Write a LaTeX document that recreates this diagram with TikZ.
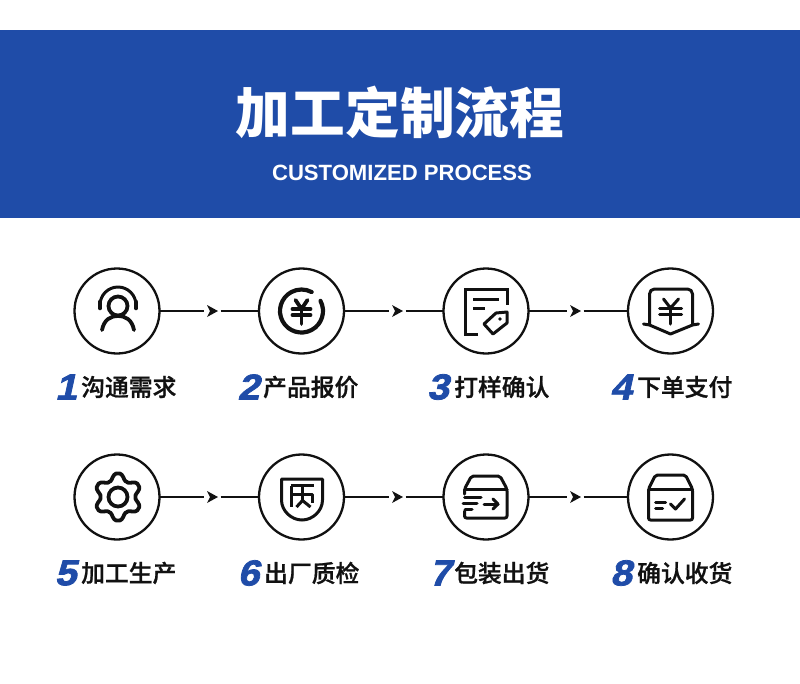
\documentclass[tikz,border=0pt]{standalone}
\usepackage{fontspec}
\usepackage{xcolor}
\setmainfont{Liberation Sans}
\newfontfamily\cjk{Noto Sans CJK SC}
\newfontfamily\cjkmed[FakeBold=0.9]{Noto Sans CJK SC Medium}
\newfontfamily\numfont[FakeStretch=1.08,FakeSlant=0.22,FakeBold=2.2]{Liberation Sans Bold}
\usetikzlibrary{positioning, calc}
\definecolor{brandblue}{HTML}{1F4CA8}
\definecolor{inkblack}{HTML}{111111}

\begin{document}
\begin{tikzpicture}[
  x=1pt, y=-1pt,
  stepcirc/.style={circle, draw=inkblack, line width=2.3pt, minimum size=85pt,
                   inner sep=0pt, outer sep=0pt},
  gapnode/.style={minimum width=17pt, minimum height=10pt, inner sep=0pt, outer sep=0pt},
  wire/.style={draw=inkblack, line width=2.8pt},
  tipshape/.style={fill=inkblack},
  ico/.style={draw=inkblack, line width=3.8pt, line join=round, line cap=round},
  icothin/.style={draw=inkblack, line width=3pt, line join=round, line cap=round},
  numlbl/.style={font=\numfont\fontsize{36}{36}\selectfont, text=brandblue,
                 inner sep=0pt},
  txtlbl/.style={font=\cjkmed\fontsize{23.8}{24}\selectfont, text=inkblack,
                 anchor=west, inner sep=0pt}
]
\useasboundingbox (0,0) rectangle (800,683);

%% ---- Banner ----
\node[fill=brandblue, minimum width=800pt, minimum height=188pt, inner sep=0pt,
      outer sep=0pt] (banner) at (400,124) {};
\node[font=\cjk\bfseries\fontsize{54.7}{56}\selectfont, text=white, inner sep=0pt]
  (title) at (400,112) {加工定制流程};
\node[font=\bfseries\fontsize{22.1}{23}\selectfont, text=white, inner sep=0pt]
  (subtitle) at (402,172.5) {CUSTOMIZED PROCESS};

%% ---- Row 1: circles ----
\node[stepcirc] (c1) at (117,311) {};
\node[stepcirc] (c2) at (301.5,311) {};
\node[stepcirc] (c3) at (486,311) {};
\node[stepcirc] (c4) at (670.5,311) {};

%% ---- Row 2: circles ----
\node[stepcirc] (c5) at (117,497) {};
\node[stepcirc] (c6) at (301.5,497) {};
\node[stepcirc] (c7) at (486,497) {};
\node[stepcirc] (c8) at (670.5,497) {};

%% ---- Gaps in the connectors ----
\node[gapnode] (g12) at (212,311) {};
\node[gapnode] (g23) at (397,311) {};
\node[gapnode] (g34) at (575,311) {};
\node[gapnode] (g56) at (212,497) {};
\node[gapnode] (g67) at (397,497) {};
\node[gapnode] (g78) at (575,497) {};

%% ---- Connectors ----
\draw[wire] (c1) -- (g12);
\draw[wire] (g12) -- (c2);
\draw[wire] (c2) -- (g23);
\draw[wire] (g23) -- (c3);
\draw[wire] (c3) -- (g34);
\draw[wire] (g34) -- (c4);
\draw[wire] (c5) -- (g56);
\draw[wire] (g56) -- (c6);
\draw[wire] (c6) -- (g67);
\draw[wire] (g67) -- (c7);
\draw[wire] (c7) -- (g78);
\draw[wire] (g78) -- (c8);

%% ---- Arrow tips ----
\fill[tipshape] ($(g12)+(-5,-6)$) -- ($(g12)+(6,0)$) -- ($(g12)+(-5,6)$) -- ($(g12)+(-2,0)$) -- cycle;
\fill[tipshape] ($(g23)+(-5,-6)$) -- ($(g23)+(6,0)$) -- ($(g23)+(-5,6)$) -- ($(g23)+(-2,0)$) -- cycle;
\fill[tipshape] ($(g34)+(-5,-6)$) -- ($(g34)+(6,0)$) -- ($(g34)+(-5,6)$) -- ($(g34)+(-2,0)$) -- cycle;
\fill[tipshape] ($(g56)+(-5,-6)$) -- ($(g56)+(6,0)$) -- ($(g56)+(-5,6)$) -- ($(g56)+(-2,0)$) -- cycle;
\fill[tipshape] ($(g67)+(-5,-6)$) -- ($(g67)+(6,0)$) -- ($(g67)+(-5,6)$) -- ($(g67)+(-2,0)$) -- cycle;
\fill[tipshape] ($(g78)+(-5,-6)$) -- ($(g78)+(6,0)$) -- ($(g78)+(-5,6)$) -- ($(g78)+(-2,0)$) -- cycle;

%% ---- Labels ----
\node[numlbl] (n1) at (66,387) {1};
\node[txtlbl] (t1) at (81,387) {沟通需求};
\node[numlbl] (n2) at (248.5,387) {2};
\node[txtlbl] (t2) at (263,387) {产品报价};
\node[numlbl] (n3) at (438,387) {3};
\node[txtlbl] (t3) at (454,387) {打样确认};
\node[numlbl] (n4) at (621,387) {4};
\node[txtlbl] (t4) at (637,387) {下单支付};
\node[numlbl] (n5) at (65.5,573) {5};
\node[txtlbl] (t5) at (81,573) {加工生产};
\node[numlbl] (n6) at (248.5,573) {6};
\node[txtlbl] (t6) at (264,573) {出厂质检};
\node[numlbl] (n7) at (440,573) {7};
\node[txtlbl] (t7) at (454,573) {包装出货};
\node[numlbl] (n8) at (621,573) {8};
\node[txtlbl] (t8) at (637,573) {确认收货};

%% ---- Icon 1: headset ----
\begin{scope}[shift={(c1.center)}]
  \draw[ico] (1,-5) circle[radius=9.5];
  \draw[icothin] (-17,-6) arc[start angle=180, end angle=360, radius=18];
  \draw[ico, line width=4.6pt] (-17,-9) -- (-17,-3);
  \draw[ico, line width=4.6pt] (19,-9) -- (19,-3);
  \draw[ico] (-15,19) .. controls (-13,9) and (-7,5) .. (1,5)
             .. controls (9,5) and (15,9) .. (17,19);
\end{scope}

%% ---- Icon 2: coin ----
\begin{scope}[shift={(c2.center)}]
  \draw[ico, line width=4.2pt] (-28:21.5) arc[start angle=-28, end angle=298, radius=21.5];
  \draw[ico] (-6,-11) -- (0,-2) -- (6,-11);
  \draw[ico] (-9,-2) -- (9,-2);
  \draw[ico] (-9,4) -- (9,4);
  \draw[ico] (0,-2) -- (0,13);
\end{scope}

%% ---- Icon 3: sheet and tag ----
\begin{scope}[shift={(c3.center)}]
  \draw[icothin, line cap=butt, line join=miter] (-8,23) -- (-21,23) -- (-21,-22) -- (21,-22) -- (21,-6);
  \draw[icothin, line cap=butt] (-13,-12) -- (13,-12);
  \draw[icothin, line cap=butt] (-13,-3) -- (-1,-3);
  \draw[icothin] (-2,13) -- (7,23) -- (21,12) -- (21,1) -- (10,2) -- cycle;
  \fill[inkblack] (14,8) circle[radius=1.8];
\end{scope}

%% ---- Icon 4: yen pocket ----
\begin{scope}[shift={(c4.center)}]
  \draw[icothin, rounded corners=5pt] (-21,13) -- (-21,-22) -- (22,-22) -- (22,13);
  \draw[icothin] (-27,13) -- (-21,14) -- (0,23) -- (22,14) -- (28,13);
  \draw[icothin] (-7,-12) -- (0,-3) -- (8,-12);
  \draw[icothin] (-11,-3) -- (11,-3);
  \draw[icothin] (-11,3) -- (11,3);
  \draw[icothin] (0,-3) -- (0,13);
\end{scope}

%% ---- Icon 5: gear ----
\begin{scope}[shift={(c5.center)}]
  \draw[ico] (1,0) circle[radius=9.5];
  \draw[ico, smooth, shift={(1,0)}] plot[domain=0:360, samples=73]
    ({(20.5-3*max(-1,min(1,1.3*cos(6*\x))))*cos(\x)},
     {(20.5-3*max(-1,min(1,1.3*cos(6*\x))))*sin(\x)}) -- cycle;
\end{scope}

%% ---- Icon 6: shield ----
\begin{scope}[shift={(c6.center)}]
  \draw[icothin] (-20,-18) -- (21,-18) -- (21,3)
    .. controls (21,14) and (11,23) .. (0.5,23)
    .. controls (-10,23) and (-20,14) .. (-20,3) -- cycle;
  \draw[icothin, line cap=butt] (-11,-11.5) -- (12,-11.5);
  \draw[icothin, line cap=butt] (-10,-11.5) -- (-10,10);
  \draw[icothin, line cap=butt] (-10,-2.5) -- (11,-2.5) -- (11,6);
  \draw[icothin, line cap=butt] (1,-11.5) -- (1,3.5);
  \draw[icothin, line cap=butt] (-5,10) -- (1,3.5) -- (9,10);
\end{scope}

%% ---- Icon 7: box out ----
\begin{scope}[shift={(c7.center)}]
  \draw[icothin, rounded corners=2pt] (-21.5,-3) -- (-21.5,-8) -- (-14.5,-21) -- (14,-21) -- (21,-8) -- (21,21) -- (-21.5,21) -- (-21.5,14);
  \draw[icothin] (-21.5,-8) -- (21,-8);
  \draw[icothin] (-21.5,0) -- (-5,0);
  \draw[icothin] (-23,6) -- (-9,6);
  \draw[icothin] (-21,12) -- (-14,12);
  \draw[icothin] (-2,7) -- (12,7);
  \draw[icothin] (7,2) -- (12,7) -- (7,12);
\end{scope}

%% ---- Icon 8: box check ----
\begin{scope}[shift={(c8.center)}]
  \draw[icothin, rounded corners=2pt] (-22,-8) -- (-15,-22) -- (15,-22) -- (22,-8) -- (22,23) -- (-22,23) -- cycle;
  \draw[icothin] (-22,-8) -- (22,-8);
  \draw[icothin] (-15,5) -- (-5,5);
  \draw[icothin] (-15,11) -- (-8,11);
  \draw[icothin] (0,7) -- (5,12) -- (14,2);
\end{scope}

\end{tikzpicture}
\end{document}
